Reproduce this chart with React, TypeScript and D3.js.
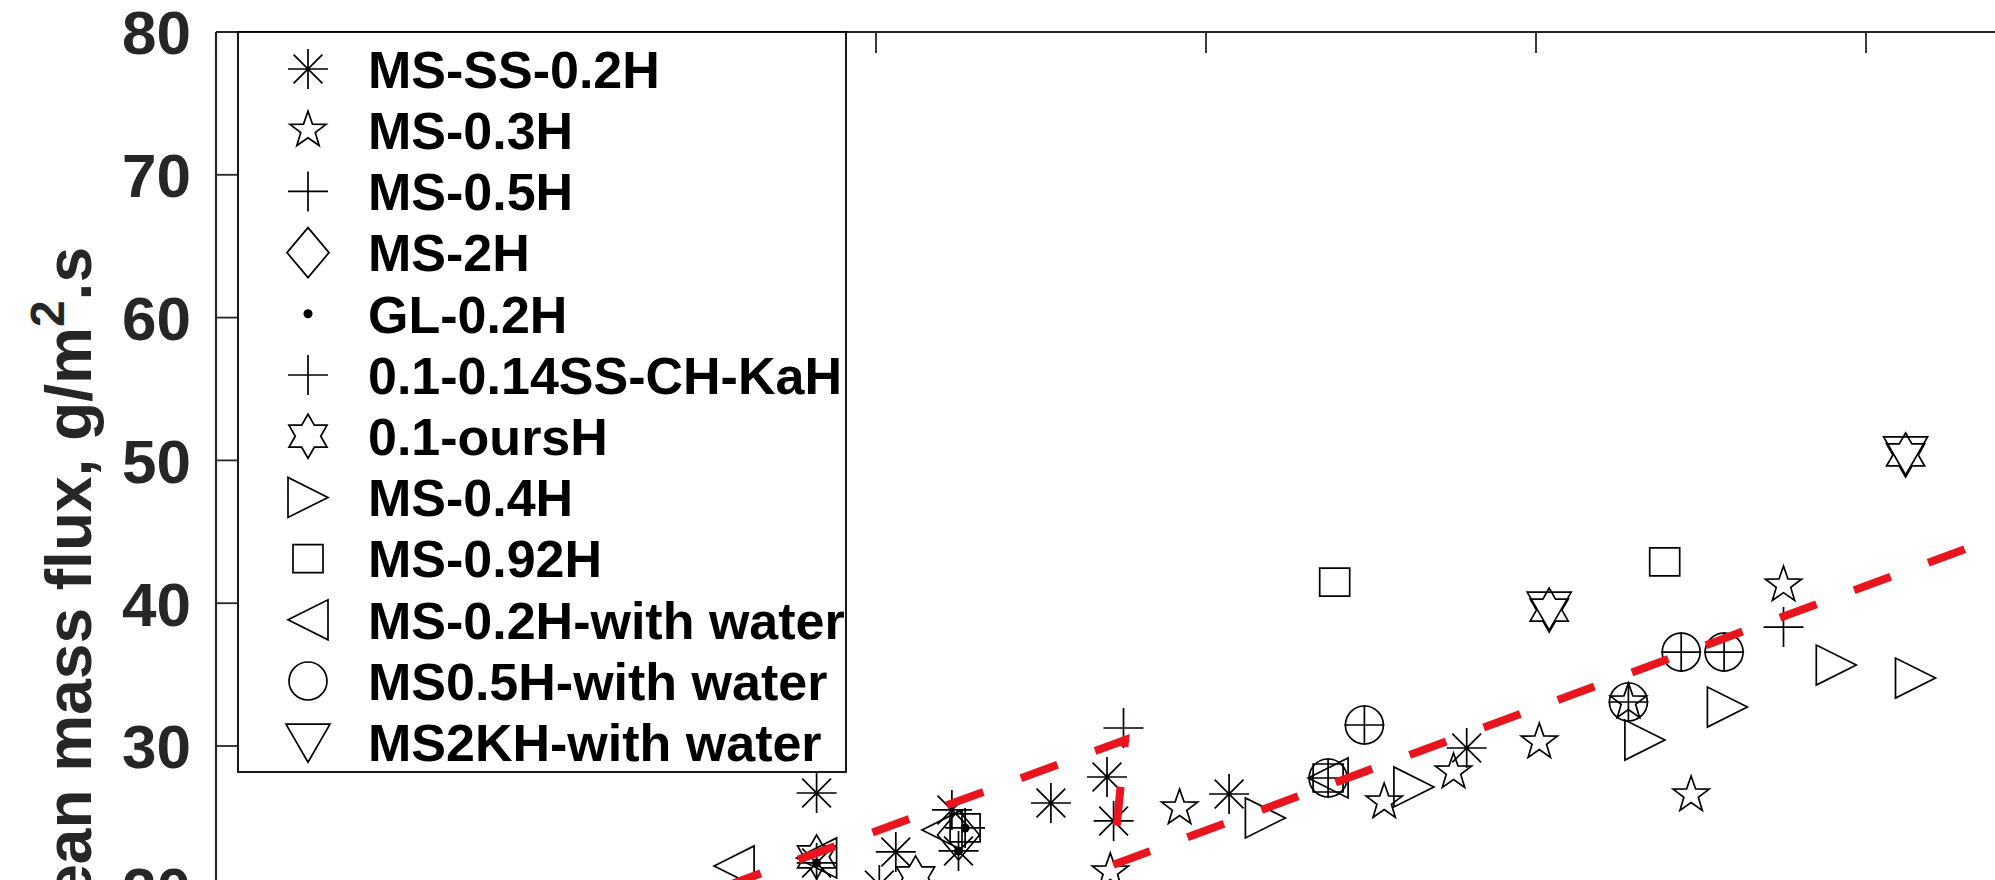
import React from 'react';
import * as d3 from 'd3';

// ---------------- data (x in axis units, y in g/m^2.s) ----------------
const xTicks = [0, 1, 2, 3, 4, 5, 6];
const yTicks = [0, 10, 20, 30, 40, 50, 60, 70, 80];

const seriesNames = [
  'MS-SS-0.2H', 'MS-0.3H', 'MS-0.5H', 'MS-2H', 'GL-0.2H', '0.1-0.14SS-CH-KaH',
  '0.1-oursH', 'MS-0.4H', 'MS-0.92H', 'MS-0.2H-with water', 'MS0.5H-with water', 'MS2KH-with water',
];
const seriesMarkers = [
  'asterisk', 'pentagram', 'plus', 'diamond', 'dot', 'plus',
  'hexagram', 'triRight', 'square', 'triLeft', 'circle', 'triDown',
];

const msSs02X = [1.82, 1.82, 2.01, 2.06, 2.23, 2.25, 2.53, 2.70, 2.72, 3.07, 3.79];
const msSs02Y = [26.71, 21.81, 20.27, 22.58, 25.52, 22.65, 26.01, 27.83, 24.75, 26.64, 29.86];

const ms03X = [2.71, 2.92, 3.54, 3.75, 4.01, 4.28, 4.47, 4.75];
const ms03Y = [21.18, 25.66, 26.08, 28.18, 30.28, 33.08, 26.57, 41.27];

const ms05X = [2.75, 2.27, 3.37, 3.48, 4.28];
const ms05Y = [31.26, 24.26, 27.76, 31.47, 33.08];

const ms2X = [2.25];
const ms2Y = [23.77];

const gl02X = [1.82, 2.25, 2.27];
const gl02Y = [21.81, 22.65, 24.26];

const ssChX = [4.75, 4.44, 4.57];
const ssChY = [38.33, 36.58, 36.58];

const oursX = [1.82, 2.12, 4.04, 5.12];
const oursY = [22.23, 20.76, 39.52, 50.38];

const ms04X = [3.18, 3.63, 4.33, 4.58, 4.91, 5.15];
const ms04Y = [24.96, 27.13, 30.42, 32.73, 35.67, 34.76];

const ms092X = [2.27, 3.37, 3.39, 4.39, 5.44, 5.44];
const ms092Y = [24.26, 27.76, 41.48, 42.89, 48.84, 35.46];

const ms02wX = [1.57, 1.82, 2.20, 3.37];
const ms02wY = [21.6, 22.16, 24.12, 27.76];

const ms05wX = [3.37, 3.48, 4.28, 4.44, 4.57];
const ms05wY = [27.76, 31.47, 33.08, 36.58, 36.58];

const ms2kwX = [4.04, 5.12];
const ms2kwY = [39.52, 50.38];

// piecewise fit line (red dashed)
const fitX = [1.315, 2.755, 2.718, 5.71];
const fitY = [18.24, 30.42, 21.67, 47.3];

const seriesX = [msSs02X, ms03X, ms05X, ms2X, gl02X, ssChX, oursX, ms04X, ms092X, ms02wX, ms05wX, ms2kwX];
const seriesY = [msSs02Y, ms03Y, ms05Y, ms2Y, gl02Y, ssChY, oursY, ms04Y, ms092Y, ms02wY, ms05wY, ms2kwY];

// ---------------- layout ----------------
const W = 1995;
const H = 880;
const AX_LEFT = 216;
const AX_TOP = 32;
const FONT = "'Liberation Sans', Arial, Helvetica, sans-serif";
const INK = '#262626';

function markerPath(kind: string): string {
  const p = d3.path();
  const r = 20;
  switch (kind) {
    case 'asterisk': {
      const d = r * 0.72;
      p.moveTo(-r, 0); p.lineTo(r, 0);
      p.moveTo(0, -r); p.lineTo(0, r);
      p.moveTo(-d, -d); p.lineTo(d, d);
      p.moveTo(-d, d); p.lineTo(d, -d);
      break;
    }
    case 'plus':
      p.moveTo(-r, 0); p.lineTo(r, 0);
      p.moveTo(0, -r); p.lineTo(0, r);
      break;
    case 'pentagram': {
      const R = 19, ri = R * 0.4;
      for (let i = 0; i < 10; i++) {
        const a = -Math.PI / 2 + (i * Math.PI) / 5;
        const rr = i % 2 === 0 ? R : ri;
        if (i === 0) p.moveTo(rr * Math.cos(a), rr * Math.sin(a));
        else p.lineTo(rr * Math.cos(a), rr * Math.sin(a));
      }
      p.closePath();
      break;
    }
    case 'hexagram': {
      const R = 22, ri = R / Math.sqrt(3);
      for (let i = 0; i < 12; i++) {
        const a = -Math.PI / 2 + (i * Math.PI) / 6;
        const rr = i % 2 === 0 ? R : ri;
        if (i === 0) p.moveTo(rr * Math.cos(a), rr * Math.sin(a));
        else p.lineTo(rr * Math.cos(a), rr * Math.sin(a));
      }
      p.closePath();
      break;
    }
    case 'diamond':
      p.moveTo(0, -25); p.lineTo(21, 0); p.lineTo(0, 25); p.lineTo(-21, 0); p.closePath();
      break;
    case 'triRight':
      p.moveTo(r, 0); p.lineTo(-r, -r); p.lineTo(-r, r); p.closePath();
      break;
    case 'triLeft':
      p.moveTo(-r, 0); p.lineTo(r, -r); p.lineTo(r, r); p.closePath();
      break;
    case 'triDown':
      p.moveTo(-r - 2, -r + 2); p.lineTo(r + 2, -r + 2); p.lineTo(0, r); p.closePath();
      break;
    case 'square':
      p.rect(-15, -14, 30, 28);
      break;
    case 'circle':
      p.arc(0, 0, 19, 0, Math.PI * 2);
      break;
    default:
      break;
  }
  return p.toString();
}

function Marker({ kind, x, y }: { kind: string; x: number; y: number }) {
  if (kind === 'dot') {
    return <circle cx={x} cy={y} r={4.5} fill="#000" />;
  }
  return (
    <path
      d={markerPath(kind)}
      transform={`translate(${x},${y})`}
      fill="none"
      stroke="#000"
      strokeWidth={1.7}
    />
  );
}

export default function App() {
  const xScale = d3.scaleLinear().domain([0, 6]).range([AX_LEFT, AX_LEFT + 6 * 330]);
  const yScale = d3.scaleLinear().domain([30, 80]).range([746, AX_TOP]);

  const line = d3
    .line<number>()
    .x((_, i) => xScale(fitX[i]))
    .y((d) => yScale(d));
  const fitPath = line(fitY) || '';

  const legendLeft = 238;
  const legendRight = 846;
  const legendBottom = 772;
  const rowY = (i: number) => 69 + 61.2 * i;

  return (
    <svg
      width={W}
      height={H}
      viewBox={`0 0 ${W} ${H}`}
      style={{ position: 'absolute', left: 0, top: 0, background: '#fff', overflow: 'hidden' }}
      fontFamily={FONT}
    >
      <rect x={0} y={0} width={W} height={H} fill="#fff" />

      {/* axes box lines */}
      <line x1={AX_LEFT} y1={AX_TOP} x2={W + 10} y2={AX_TOP} stroke={INK} strokeWidth={2.2} />
      <line x1={AX_LEFT} y1={AX_TOP} x2={AX_LEFT} y2={H + 10} stroke={INK} strokeWidth={2.2} />

      {/* ticks on top edge */}
      {xTicks.map((t) => (
        <line key={`xt${t}`} x1={xScale(t)} x2={xScale(t)} y1={AX_TOP} y2={AX_TOP + 21} stroke={INK} strokeWidth={1.8} />
      ))}
      {/* y ticks + labels */}
      {yTicks.map((t) => (
        <g key={`yt${t}`}>
          <line x1={AX_LEFT} x2={AX_LEFT + 21} y1={yScale(t)} y2={yScale(t)} stroke={INK} strokeWidth={1.8} />
          <text
            x={191}
            y={yScale(t)}
            dy="0.36em"
            textAnchor="end"
            fontSize={62}
            fontWeight="bold"
            fill={INK}
          >
            {t}
          </text>
        </g>
      ))}

      {/* y axis label */}
      <text
        transform={`translate(91, 247) rotate(-90)`}
        textAnchor="end"
        fontSize={64}
        fontWeight="bold"
        fill={INK}
      >
        Mean mass flux, g/m<tspan dy={-27} fontSize={48}>2</tspan>
        <tspan dy={27}>.s</tspan>
      </text>

      {/* data markers */}
      {seriesNames.map((name, si) => (
        <g key={`s${name}`}>
          {seriesX[si].map((xv, i) => (
            <Marker key={i} kind={seriesMarkers[si]} x={xScale(xv)} y={yScale(seriesY[si][i])} />
          ))}
        </g>
      ))}

      {/* fitted dashed line */}
      <path d={fitPath} fill="none" stroke="#e8141e" strokeWidth={8} strokeDasharray="39 40" />

      {/* legend */}
      <rect
        x={legendLeft}
        y={AX_TOP}
        width={legendRight - legendLeft}
        height={legendBottom - AX_TOP}
        fill="#fff"
        stroke="#000"
        strokeWidth={1.8}
      />
      {seriesNames.map((name, i) => (
        <g key={`lg${name}`}>
          <Marker kind={seriesMarkers[i]} x={308} y={rowY(i)} />
          <text x={368} y={rowY(i)} dy="0.36em" fontSize={52} fontWeight="bold" fill="#000">
            {name}
          </text>
        </g>
      ))}
    </svg>
  );
}
